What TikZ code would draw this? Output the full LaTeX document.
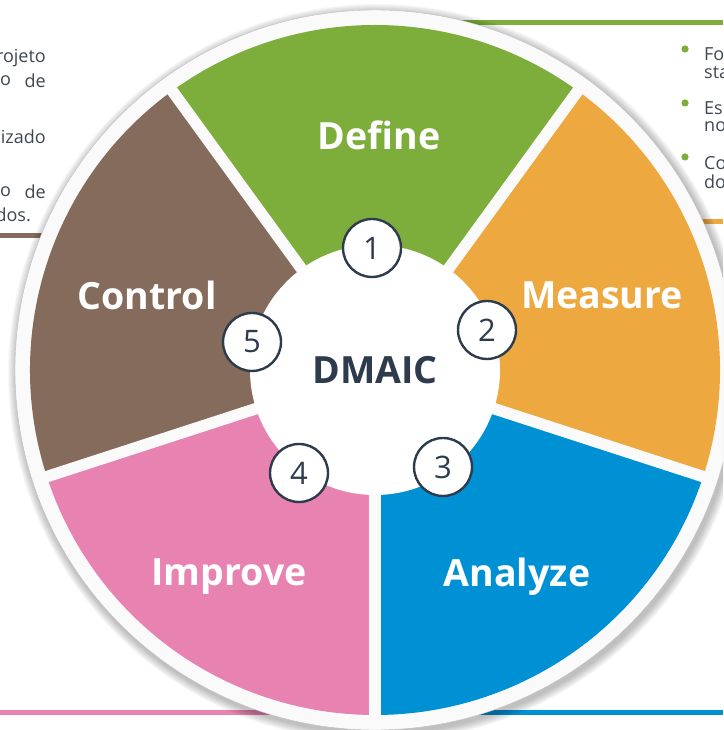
\documentclass[tikz,border=0pt]{standalone}
\usepackage{fontspec}
\setmainfont{Open Sans}
\usepackage{tikz}
\usetikzlibrary{calc}
\usetikzlibrary{backgrounds}
\definecolor{VerdeDef}{HTML}{7DAE3B}
\definecolor{LaranjaMea}{HTML}{EDA83F}
\definecolor{AzulAna}{HTML}{0090D4}
\definecolor{RosaImp}{HTML}{E882B1}
\definecolor{MarromCtl}{HTML}{846B5C}
\definecolor{Anel}{HTML}{FAFAFA}
\definecolor{Tinta}{HTML}{2D3B4C}
\definecolor{TextoCinza}{HTML}{3E4752}

\begin{document}
\begin{tikzpicture}[x=1pt,y=1pt,
    phase/.style={text=white, font=\fontsize{37.5}{40}\selectfont\bfseries},
    stepnum/.style={circle, draw=Tinta, line width=2.4pt, fill=white,
      minimum size=58pt, inner sep=0pt, text=Tinta,
      font=\fontsize{31}{31}\selectfont},
    sidetext/.style={text=TextoCinza, inner sep=0pt,
      font=\fontsize{18}{21}\selectfont}]
  \useasboundingbox (0,0) rectangle (723,730);
  \clip (0,0) rectangle (723,730);

  % bars behind the wheel
  \draw[line width=5pt, draw=VerdeDef] (380,707) -- (723,707);
  \draw[line width=5pt, draw=MarromCtl] (0,494) -- (80,494);
  \draw[line width=5pt, draw=LaranjaMea] (660,508) -- (723,508);
  \draw[line width=5pt, draw=RosaImp] (0,17) -- (375,17);
  \draw[line width=5pt, draw=AzulAna] (375,17) -- (723,17);

  % left column (cut off)
  \node[sidetext, anchor=east] (l1) at (46,672) {rojeto};
  \node[sidetext, anchor=west] (l2a) at (0,649) {o};
  \node[sidetext, anchor=east] (l2b) at (46,649) {de};
  \node[sidetext, anchor=east] (l3) at (46,593) {izado};
  \node[sidetext, anchor=west] (l4a) at (0,538) {o};
  \node[sidetext, anchor=east] (l4b) at (46,538) {de};
  \node[sidetext, anchor=east] (l5) at (31,515) {dos.};

  % right column (cut off)
  \foreach \y [count=\i] in {681,627,573}
    \fill[VerdeDef] (685,\y) circle (3.6) coordinate (b\i);
  \node[sidetext, anchor=west] (r1) at (704,676) {Fo};
  \node[sidetext, anchor=west] (r2) at (704,657) {sta};
  \node[sidetext, anchor=west] (r3) at (704,622) {Es};
  \node[sidetext, anchor=west] (r4) at (704,603) {no};
  \node[sidetext, anchor=west] (r5) at (704,567) {Co};
  \node[sidetext, anchor=west] (r6) at (704,548) {do};

  % wheel: shadow and outer ring
  \coordinate (center) at (375,360);
  \foreach \r in {361,362,...,369}
    \fill[black, opacity=.03] ($(center)+(2,-3)$) circle (\r);
  \fill[Anel, draw=black!25, line width=.4pt] (center) circle (360);

  % the five sectors
  \fill[VerdeDef] (center) -- ++(54:345) arc (54:126:345) -- cycle;
  \fill[MarromCtl] (center) -- ++(126:345) arc (126:198:345) -- cycle;
  \fill[RosaImp] (center) -- ++(198:345) arc (198:270:345) -- cycle;
  \fill[AzulAna] (center) -- ++(270:345) arc (270:342:345) -- cycle;
  \fill[LaranjaMea] (center) -- ++(-18:345) arc (-18:54:345) -- cycle;

  % white gaps between sectors
  \foreach \a in {54,126,198,270,342}
    \draw[Anel, line width=11.5pt] (center) -- ++(\a:352);

  % hub
  \fill[white] (center) circle (125);
  \node[text=Tinta, font=\fontsize{37.5}{40}\selectfont\bfseries] (dmaic) at (center) {DMAIC};

  % phase names
  \node[phase] (define) at (379,595) {Define};
  \node[phase] (measure) at (602,435) {Measure};
  \node[phase] (analyze) at (517,153) {Analyze};
  \node[phase] (improve) at (229,153) {Improve};
  \node[phase] (control) at (147,435) {Control};

  % step numbers
  \node[stepnum] (n1) at (372,482) {1};
  \node[stepnum] (n2) at (487,400) {2};
  \node[stepnum] (n3) at (443,263) {3};
  \node[stepnum] (n4) at (299,257) {4};
  \node[stepnum] (n5) at (252,388) {5};

\end{tikzpicture}
\end{document}
